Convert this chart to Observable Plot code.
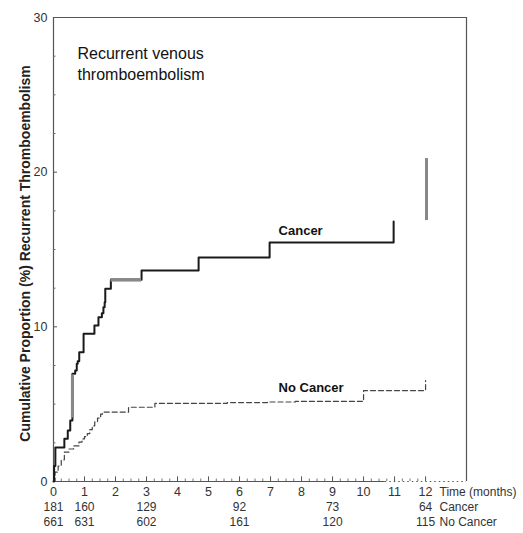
<!DOCTYPE html>
<html><head><meta charset="utf-8">
<script src="https://cdn.jsdelivr.net/npm/d3@7"></script>
<script src="https://cdn.jsdelivr.net/npm/@observablehq/plot@0.6"></script>
<style>body{margin:0;background:#fff}#chart svg{display:block}</style>
</head><body><div id="chart"></div>
<script>
// Cumulative recurrent VTE (%), Kaplan-Meier step curves
const cancerTime = [0, 0.02, 0.06, 0.35, 0.46, 0.54, 0.61, 0.70, 0.75, 0.78, 0.83, 0.97, 1.32, 1.45, 1.56, 1.61, 1.65, 1.67, 1.85, 2.84, 4.68, 6.97, 10.97];
const cancerPct  = [0, 1.0, 2.2, 2.76, 3.30, 3.94, 6.96, 7.18, 7.61, 7.78, 8.36, 9.55, 10.08, 10.62, 10.88, 11.27, 11.59, 12.46, 13.04, 13.64, 14.48, 15.45, 16.81];
const noCancerTime = [0, 0.05, 0.15, 0.25, 0.35, 0.5, 0.65, 0.82, 0.92, 1.0, 1.09, 1.17, 1.25, 1.33, 1.42, 1.52, 1.58, 2.42, 3.27, 5.6, 6.9, 7.8, 10.0, 12.0];
const noCancerPct  = [0, 0.6, 1.0, 1.4, 1.9, 2.1, 2.3, 2.55, 2.75, 2.9, 3.1, 3.35, 3.6, 3.85, 4.1, 4.35, 4.48, 4.8, 5.05, 5.1, 5.14, 5.18, 5.88, 6.53];
// lighter (grey) scan segments of the cancer curve
const greyHTime1 = [1.85], greyHTime2 = [2.84], greyHPct = [13.04];
const greyVTime = [0.61, 12.03], greyVPct1 = [4.1, 16.87], greyVPct2 = [6.9, 20.88];
// labels
const seriesNames = ["Cancer", "No Cancer"];
const seriesLabelTime = [7.26, 7.26];
const seriesLabelPct = [16.2, 6.08];
const titleLines = ["Recurrent venous", "thromboembolism"];
const yLabel = "Cumulative Proportion (%) Recurrent Thromboembolism";
const xLabel = "Time (months)";
// axes
const yTicks = [0, 10, 20, 30];
const yMinorTicks = [2.5, 5, 7.5, 12.5, 15, 17.5, 22.5, 25, 27.5];
const xTicks = [0, 1, 2, 3, 4, 5, 6, 7, 8, 9, 10, 11, 12];
// numbers at risk
const riskMonths = [0, 1, 3, 6, 9, 12];
const riskCancer = [181, 160, 129, 92, 73, 64];
const riskNoCancer = [661, 631, 602, 161, 120, 115];
const riskNames = ["Cancer", "No Cancer"];

const cancer = cancerTime.map((t, i) => ({t, v: cancerPct[i]}));
const noCancer = noCancerTime.map((t, i) => ({t, v: noCancerPct[i]}));
const greyH = greyHTime1.map((t, i) => ({t1: t, t2: greyHTime2[i], v: greyHPct[i]}));
const greyV = greyVTime.map((t, i) => ({t, v1: greyVPct1[i], v2: greyVPct2[i]}));
const seriesLabels = seriesNames.map((n, i) => ({n, t: seriesLabelTime[i], v: seriesLabelPct[i]}));
const riskC = riskMonths.map((t, i) => ({t, n: riskCancer[i]}));
const riskN = riskMonths.map((t, i) => ({t, n: riskNoCancer[i]}));
const xMax = 13.32;
const xMinor = d3.range(0, 12.01, 0.25).filter(d => d % 1 !== 0);

const FONT = "'Liberation Sans', Arial, sans-serif";
const ink = "#333";

const chart = Plot.plot({
  width: 523, height: 533,
  marginLeft: 53, marginRight: 57, marginTop: 17, marginBottom: 52,
  style: {fontFamily: FONT, background: "#fff"},
  x: {domain: [0, xMax], axis: null},
  y: {domain: [0, 30], axis: null},
  marks: [
    // frame
    Plot.ruleY([30], {x1: 0, x2: xMax, stroke: "#555", strokeWidth: 1.2}),
    Plot.ruleX([xMax], {y1: 0, y2: 30, stroke: "#555", strokeWidth: 1.2}),
    // y axis
    Plot.ruleX([0], {y1: 0, y2: 30, stroke: "#555", strokeWidth: 1.2}),
    Plot.ruleY(yTicks, {y: d => d, x1: 0, x2: 0.13, stroke: "#555"}),
    Plot.ruleY(yMinorTicks, {y: d => d, x1: 0, x2: 0.08, stroke: "#666"}),
    Plot.text(yTicks, {x: 0, y: d => d, text: d => String(d), dx: -6, textAnchor: "end", fontSize: 12.5, fill: ink}),
    // x axis
    Plot.ruleY([0], {x1: 0, x2: 10.7, stroke: "#555", strokeWidth: 1.2}),
    Plot.ruleY([0], {x1: 10.7, x2: xMax, stroke: "#555", strokeWidth: 1.2, strokeDasharray: "1.5,3"}),
    Plot.ruleX(xTicks, {x: d => d, y1: 0, y2: 0.3, stroke: "#555"}),
    Plot.ruleX(xMinor, {x: d => d, y1: 0, y2: 0.16, stroke: "#777"}),
    Plot.text(xTicks, {x: d => d, y: 0, text: d => String(d), dy: 6, lineAnchor: "top", fontSize: 12.5, fill: ink}),
    Plot.text([xLabel], {frameAnchor: "bottom-right", dx: -27, dy: 6, lineAnchor: "top", textAnchor: "start", fontSize: 12, fill: ink}),
    // numbers at risk
    Plot.text(riskC, {x: "t", y: 0, text: "n", dy: 21, lineAnchor: "top", fontSize: 12, fill: ink}),
    Plot.text(riskN, {x: "t", y: 0, text: "n", dy: 36, lineAnchor: "top", fontSize: 12, fill: ink}),
    Plot.text([riskNames[0]], {frameAnchor: "bottom-right", dx: -27, dy: 21, lineAnchor: "top", textAnchor: "start", fontSize: 12, fill: ink}),
    Plot.text([riskNames[1]], {frameAnchor: "bottom-right", dx: -27, dy: 36, lineAnchor: "top", textAnchor: "start", fontSize: 12, fill: ink}),
    // y label
    Plot.text([yLabel], {frameAnchor: "left", dx: -28, dy: 4, rotate: -90, textAnchor: "middle", fontSize: 14, fontWeight: "bold", fill: "#222"}),
    // title
    Plot.text([titleLines.join("\n")], {frameAnchor: "top-left", dx: 24, dy: 27, textAnchor: "start", lineAnchor: "top", fontSize: 16, lineHeight: 1.3, fill: "#111"}),
    // curves
    Plot.line(noCancer, {x: "t", y: "v", curve: "step-after", stroke: "#444", strokeWidth: 1.2, strokeDasharray: "5,3"}),
    Plot.line(cancer, {x: "t", y: "v", curve: "step-after", stroke: "#1a1a1a", strokeWidth: 2}),
    Plot.ruleY(greyH, {y: "v", x1: "t1", x2: "t2", stroke: "#888", strokeWidth: 3.5}),
    Plot.ruleX(greyV, {x: "t", y1: "v1", y2: "v2", stroke: "#888", strokeWidth: 3}),
    // series labels
    Plot.text(seriesLabels, {x: "t", y: "v", text: "n", textAnchor: "start", fontSize: 13, fontWeight: "bold", fill: "#111"})
  ]
});
document.getElementById("chart").appendChild(chart);
</script>
</body></html>
